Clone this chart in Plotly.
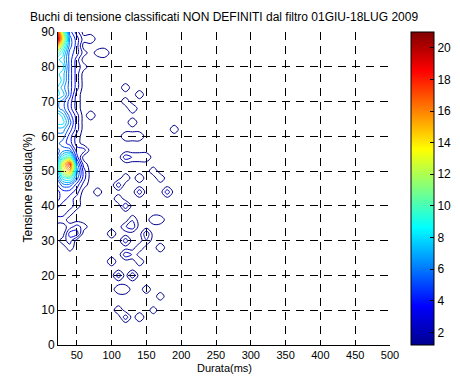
import numpy as np
import plotly.graph_objects as go

# grid of the density map
x_grid = list(range(20, 501, 10))          # Durata (ms)
y_grid = list(range(0, 91, 2))             # Tensione residua (%)

# left dense strip, one column per duration (values for y = 0,2,...,90)
col_20 = [0]*18 + [1, 2, 3, 2, 2, 3, 4, 5, 5, 4, 4, 5, 5, 6, 8, 9, 6, 6, 8, 8, 9, 8, 9, 8, 11, 17, 22, 20]
col_30 = [0]*15 + [1, 0, 0, 1, 2, 2, 3, 3, 5, 8, 12, 13, 8, 5, 4, 5, 6, 8, 7, 5, 5, 7, 6, 7, 7, 8, 7, 8, 10, 13, 11]
col_40 = [0]*14 + [1, 2, 3, 1, 0, 1, 2, 2, 3, 5, 9, 15, 18, 10, 5, 3, 3, 4, 5, 4, 3, 3, 4, 4, 4, 4, 4, 4, 4, 5, 5, 4]
col_50 = [0]*16 + [3, 2, 0, 0, 1, 1, 2, 3, 5, 6, 5, 3, 2, 1, 1, 2, 2, 2, 1, 1, 1, 2, 2, 2, 2, 2, 3, 3, 3, 2]
col_60 = [0]*17 + [1, 0, 0, 0, 0, 0, 1, 2, 2, 1, 0, 2, 0, 0, 0, 0, 0, 0, 0, 0, 0, 0, 0, 1, 0, 1, 0, 1, 0]
strip_x = [20, 30, 40, 50, 60]

# scattered spots (duration, residual voltage, count)
spot_x = [70, 90, 80, 70, 120, 120, 140, 130, 130, 120, 130, 140, 190,
          120, 130, 140, 150, 160, 120, 140, 80, 110, 110, 140,
          170, 180, 120, 120, 130, 130, 100, 150, 160, 170, 120,
          120, 130, 140, 150, 170, 140, 100, 110, 130, 110, 120, 150, 170,
          110, 120, 140, 160]
spot_y = [88, 84, 84, 66, 74, 70, 72, 68, 64, 60, 60, 60, 62,
          54, 54, 54, 54, 50, 48, 48, 44, 46, 42, 44,
          48, 44, 40, 34, 34, 36, 32, 32, 36, 36, 30,
          26, 26, 28, 30, 28, 24, 24, 20, 20, 16, 16, 16, 14,
          10, 8, 8, 10]
spot_v = [1.4, 1.4, 1.0, 1.4, 1.2, 1.2, 1.2, 1.5, 1.4, 1.4, 1.4, 1.4, 1.2,
          2.2, 1.4, 1.4, 1.4, 1.2, 1.4, 1.4, 1.2, 2.2, 1.4, 2.2,
          1.3, 2.2, 2.4, 1.4, 2.2, 1.4, 1.3, 2.4, 1.4, 1.2, 2.2,
          2.2, 1.4, 1.4, 1.4, 1.3, 1.3, 1.3, 2.2, 2.4, 1.4, 1.4, 1.2, 1.1,
          1.4, 2.2, 1.4, 1.0]

z = np.zeros((len(y_grid), len(x_grid)))
for xv, col in zip(strip_x, [col_20, col_30, col_40, col_50, col_60]):
    z[:, x_grid.index(xv)] = col
for xv, yv, vv in zip(spot_x, spot_y, spot_v):
    i = y_grid.index(yv)
    j = x_grid.index(xv)
    z[i, j] = max(z[i, j], vv)

jet = [[0, 'rgb(0,0,143)'], [0.125, 'rgb(0,0,255)'], [0.375, 'rgb(0,255,255)'],
       [0.625, 'rgb(255,255,0)'], [0.875, 'rgb(255,0,0)'], [1, 'rgb(128,0,0)']]

font = dict(family='Liberation Sans, Arial, sans-serif', size=12, color='black')
font_small = dict(family='Liberation Sans, Arial, sans-serif', size=11, color='black')

fig = go.Figure()
fig.add_trace(go.Contour(
    x=x_grid, y=y_grid, z=z, colorscale=jet, zmin=0.5, zmax=20.5, zauto=False,
    autocontour=False,
    contours=dict(coloring='lines', start=0.5, end=21, size=1),
    line=dict(width=1), showscale=False, hoverinfo='skip'))
fig.add_trace(go.Scatter(
    x=[None], y=[None], mode='markers', showlegend=False, hoverinfo='skip',
    marker=dict(color=[1.2], cmin=1.2, cmax=21, colorscale=jet, showscale=True,
                colorbar=dict(x=1.063, xanchor='left', y=0.5, yanchor='middle', len=1,
                              lenmode='fraction', thickness=23, outlinewidth=1,
                              outlinecolor='black', ticks='inside', ticklen=4,
                              tickcolor='black', tickvals=list(range(2, 21, 2)),
                              tickfont=font, xpad=0, ypad=0))))

axis_common = dict(showline=True, linecolor='black', linewidth=1, ticks='inside', ticklen=5,
                   tickcolor='black', showgrid=True, gridcolor='black', gridwidth=1,
                   griddash='8px,6px', zeroline=False, mirror=False)
fig.update_layout(
    width=460, height=376, margin=dict(l=58, r=70, t=32, b=31, autoexpand=False),
    plot_bgcolor='white', paper_bgcolor='white', font=font,
    title=dict(text='Buchi di tensione classificati NON DEFINITI dal filtro 01GIU-18LUG 2009',
               x=0.5, xref='paper', xanchor='center', y=1 - 17/376, yref='container',
               yanchor='middle', font=font),
    xaxis=dict(range=[23, 500], tickvals=list(range(50, 501, 50)), tickfont=font_small,
               **axis_common),
    yaxis=dict(range=[0, 90], tickvals=list(range(0, 91, 10)), tickfont=font, **axis_common),
    annotations=[
        dict(text='Durata(ms)', x=0.5, xref='paper', y=-31/313, yref='paper',
             xanchor='center', yanchor='bottom', showarrow=False, font=font_small),
        dict(text='Tensione residua(%)', x=-31/332, xref='paper', y=0.5, yref='paper',
             xanchor='center', yanchor='middle', showarrow=False, textangle=-90, font=font),
    ])
fig.write_html('out.html', post_script="document.body.style.margin='0';",
               config={'displayModeBar': False})
